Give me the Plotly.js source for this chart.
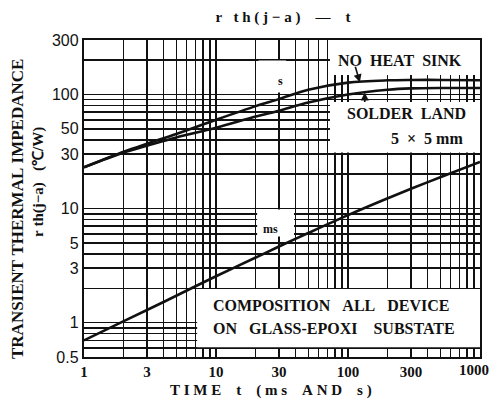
<!DOCTYPE html>
<html>
<head>
<meta charset="utf-8">
<script src="https://cdn.plot.ly/plotly-3.0.1.min.js"></script>
<style>html,body{margin:0;padding:0;background:#fff;}#chart{width:494px;height:406px;}</style>
</head>
<body>
<div id="chart"></div>
<script>
// ---- data ----
const time = [1, 2, 3, 5, 10, 20, 30, 50, 100, 200, 300, 500, 1000];
const noHeatSink = [23, 31.5, 37, 45, 60, 79, 91, 110, 127, 133, 134, 134, 133];
const solderLand = [23, 31, 35.5, 42, 51, 64, 72, 85, 100, 110, 113, 114, 114];
const msCurve = [0.70, 1.03, 1.29, 1.72, 2.55, 3.72, 4.65, 6.1, 8.75, 12.3, 14.9, 18.8, 25.6];

const xTickVals = [1, 3, 10, 30, 100, 300, 1000];
const xTickText = ['1', '3', '10', '30', '100', '300', '1000'];
const yTickVals = [0.5, 1, 3, 5, 10, 30, 50, 100, 300];
const yTickText = ['0.5', '1', '3', '5', '10', '30', '50', '100', '300'];

// log grid positions (1..9 per decade)
function logGrid(lo, hi) {
  const out = [];
  for (let d = -1; d <= 3; d++) {
    for (let m = 1; m <= 9; m++) {
      const v = +(m * Math.pow(10, d)).toPrecision(3);
      if (v >= lo && v <= hi) out.push(v);
    }
  }
  return out;
}
const xGrid = logGrid(1, 1000);
const yGrid = logGrid(0.5, 300);

// ---- layout helpers (pixel -> paper) ----
const L = 84, R = 14, T = 40, B = 49, W = 494, H = 406;
const pw = W - L - R, ph = H - T - B;
const px = x => (x - L) / pw;
const py = y => 1 - (y - T) / ph;

const serif = 'Liberation Serif, Times New Roman, serif';
const black = '#111';
const tickFontX = {family: serif, size: 15, color: black, weight: 'bold'};

const lineStyle = {color: black, width: 2.6, shape: 'spline', smoothing: 0.9};
const traces = [
  {x: time, y: noHeatSink, mode: 'lines', line: lineStyle, name: 'NO HEAT SINK', hoverinfo: 'skip'},
  {x: time, y: solderLand, mode: 'lines', line: lineStyle, name: 'SOLDER LAND', hoverinfo: 'skip'},
  {x: time, y: msCurve, mode: 'lines', line: lineStyle, name: 'ms', hoverinfo: 'skip'}
];

function box(x0, x1, y0, y1) {
  return {type: 'rect', xref: 'x', yref: 'y', x0: x0, x1: x1, y0: y0, y1: y1,
          fillcolor: '#fff', line: {width: 0}, layer: 'between'};
}
const shapes = [
  box(73, 1000, 148, 300),   // NO HEAT SINK label area
  box(73, 1000, 31, 86),     // SOLDER LAND label area
  box(21, 34, 104, 198),     // "s" label
  box(20.5, 39, 5.7, 9.8),   // "ms" label
  box(7.2, 1000, 0.61, 1.97) // composition note
];

const nb = '\u00a0';
const sp = n => nb.repeat(n);
function txt(text, x, y, size, anchor, extra) {
  return Object.assign({text: text, xref: 'paper', yref: 'paper', x: px(x), y: py(y),
    xanchor: anchor || 'center', yanchor: 'middle', showarrow: false,
    font: {family: serif, size: size, color: black, weight: 'bold'}}, extra || {});
}
const spaced = s => s.split('').join(nb);
const lastX = xTickVals.length - 1;
const annotations = [
  txt('NO' + sp(2) + 'HEAT' + sp(2) + 'SINK', 400, 60, 16),
  txt('SOLDER' + sp(2) + 'LAND', 406, 113, 16),
  txt('5' + sp(2) + '×' + sp(2) + '5' + nb + 'mm', 465, 138, 16, 'right'),
  txt('s', 280, 81, 12),
  txt('ms', 270, 229, 12),
  txt('COMPOSITION' + sp(3) + 'ALL' + sp(3) + 'DEVICE', 211, 305, 16, 'left'),
  txt('ON' + sp(3) + 'GLASS-EPOXI' + sp(4) + 'SUBSTATE', 211, 328, 16, 'left'),
  // y-axis titles
  txt('TRANSIENT' + nb + 'THERMAL' + nb + 'IMPEDANCE', 17, 209, 17, 'center', {textangle: -90}),
  txt('r' + nb + 'th(j−a)' + sp(3) + '(℃/W)', 38, 182, 15, 'center', {textangle: -90}),
  // x-axis title
  txt(spaced('TIME') + sp(4) + 't' + sp(4) + '(' + nb + spaced('ms') + sp(4) + spaced('AND') + sp(4) + 's' + nb + ')', 271, 390, 15),
  // last x tick label, nudged inward as in the reference
  {text: xTickText[lastX], xref: 'x', yref: 'paper', x: Math.log10(xTickVals[lastX]), y: 0,
   xanchor: 'right', yanchor: 'top', yshift: -3, xshift: 11, showarrow: false, font: tickFontX},
  // pointer arrows
  {x: Math.log10(123), y: Math.log10(128), xref: 'x', yref: 'y', text: '', showarrow: true,
   ax: -5, ay: -17, arrowhead: 2, arrowsize: 1, arrowwidth: 1.6, arrowcolor: black},
  {x: Math.log10(134), y: Math.log10(104), xref: 'x', yref: 'y', text: '', showarrow: true,
   ax: 0, ay: 11, arrowhead: 2, arrowsize: 1, arrowwidth: 1.6, arrowcolor: black}
];

const layout = {
  width: W, height: H,
  margin: {l: L, r: R, t: T, b: B, pad: 0},
  paper_bgcolor: '#fff', plot_bgcolor: '#fff',
  showlegend: false,
  title: {text: 'r' + sp(3) + spaced('th') + nb + spaced('(j−a)') + sp(4) + '—' + sp(4) + 't',
          x: 283 / W, y: 1 - 17 / H, xanchor: 'center', yanchor: 'middle',
          font: {family: serif, size: 15, color: black, weight: 'bold'}},
  xaxis: {
    type: 'log', range: [0, 3], tickmode: 'array', tickvals: xTickVals,
    ticktext: xTickText.map((t, i) => i === lastX ? '' : t),
    showgrid: true, gridcolor: black, gridwidth: 1.5, zeroline: false,
    showline: true, mirror: true, linecolor: black, linewidth: 2.2, ticks: '',
    tickfont: tickFontX,
    minor: {tickmode: 'array', tickvals: xGrid, showgrid: true, gridcolor: black, gridwidth: 1.5, ticks: ''},
    fixedrange: true
  },
  yaxis: {
    type: 'log', range: [Math.log10(0.5), Math.log10(300)], tickmode: 'array', tickvals: yTickVals, ticktext: yTickText,
    showgrid: true, gridcolor: black, gridwidth: 1.5, zeroline: false,
    showline: true, mirror: true, linecolor: black, linewidth: 2.2, ticks: '',
    tickfont: {family: 'Liberation Sans Narrow, Liberation Sans, Arial, sans-serif', size: 16, color: black},
    minor: {tickmode: 'array', tickvals: yGrid, showgrid: true, gridcolor: black, gridwidth: 1.5, ticks: ''},
    fixedrange: true
  },
  shapes: shapes,
  annotations: annotations
};

Plotly.newPlot('chart', traces, layout, {staticPlot: true, displayModeBar: false});
</script>
</body>
</html>
